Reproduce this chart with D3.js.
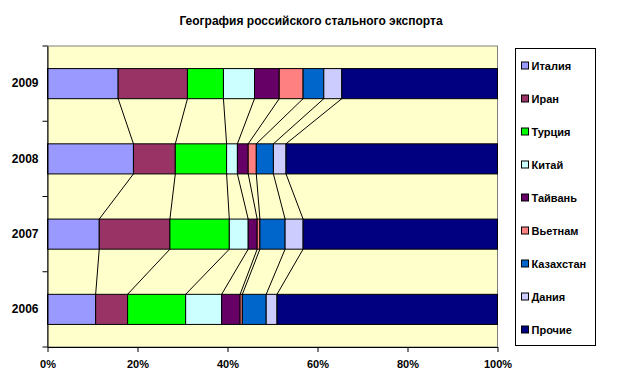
<!DOCTYPE html>
<html>
<head>
<meta charset="utf-8">
<script src="https://cdn.jsdelivr.net/npm/d3@7"></script>
<style>
  body { margin: 0; background: #fff; }
  svg { display: block; font-family: "Liberation Sans", Arial, sans-serif; }
</style>
</head>
<body>
<svg width="623" height="387"></svg>
<script>
// data: share of exports by country, %
const years = ["2006", "2007", "2008", "2009"];
const countries = ["Италия", "Иран", "Турция", "Китай", "Тайвань", "Вьетнам", "Казахстан", "Дания", "Прочие"];
const share2006 = [10.7, 7.1, 12.9, 8.0, 4.1, 0.5, 5.3, 2.4, 49.0];
const share2007 = [11.5, 15.7, 13.2, 4.2, 2.0, 0.6, 5.6, 4.0, 43.2];
const share2008 = [19.1, 9.3, 11.4, 2.4, 2.4, 1.8, 3.8, 2.8, 47.0];
const share2009 = [15.7, 15.4, 8.0, 6.9, 5.5, 5.3, 4.6, 4.0, 34.6];
const xTicks = ["0%", "20%", "40%", "60%", "80%", "100%"];

const colors = ["#9999ff", "#993366", "#00ff00", "#ccffff", "#660066", "#ff8080", "#0066cc", "#ccccff", "#000080"];

const svg = d3.select("svg");
const plot = { left: 47.5, top: 46, width: 450, height: 301 };

const rows = [share2006, share2007, share2008, share2009].map((vals, i) => {
  const r = { year: years[i] };
  countries.forEach((c, j) => r[c] = vals[j]);
  return r;
});
const series = d3.stack().keys(countries).offset(d3.stackOffsetExpand)(rows);

const x = d3.scaleLinear().domain([0, 1]).range([0, plot.width]);
const y = d3.scaleBand().domain(years.slice().reverse()).range([0, plot.height]).paddingInner(0.6).paddingOuter(0.3);
const color = d3.scaleOrdinal().domain(countries).range(colors);

// title
svg.append("text")
  .attr("x", 311).attr("y", 25)
  .attr("text-anchor", "middle")
  .attr("font-size", "12px").attr("font-weight", "bold")
  .text("География российского стального экспорта");

const g = svg.append("g").attr("transform", `translate(${plot.left},${plot.top})`);

// plot background
g.append("rect")
  .attr("width", plot.width).attr("height", plot.height)
  .attr("fill", "#ffffcc").attr("stroke", "#808080");

// series lines between neighbouring bars
const order = y.domain();
series.slice(0, -1).forEach(s => {
  for (let k = 0; k < order.length - 1; k++) {
    const a = s.find(d => d.data.year === order[k]);
    const b = s.find(d => d.data.year === order[k + 1]);
    g.append("line")
      .attr("x1", x(a[1])).attr("y1", y(order[k]) + y.bandwidth())
      .attr("x2", x(b[1])).attr("y2", y(order[k + 1]))
      .attr("stroke", "#000").attr("stroke-width", 1);
  }
});

// bars
g.selectAll("g.series")
  .data(series).enter().append("g")
  .attr("fill", d => color(d.key))
  .selectAll("rect")
  .data(d => d).enter().append("rect")
  .attr("x", d => x(d[0]))
  .attr("width", d => x(d[1]) - x(d[0]))
  .attr("y", d => y(d.data.year))
  .attr("height", y.bandwidth())
  .attr("stroke", "#000").attr("stroke-width", 1);

// axes
const xAxis = g.append("g")
  .attr("transform", `translate(0,${plot.height})`)
  .call(d3.axisBottom(x).tickValues(d3.range(0, 1.01, 0.2)).tickFormat((d, i) => xTicks[i]).tickSize(5).tickSizeOuter(0));
xAxis.selectAll("text").attr("font-size", "11px").attr("font-weight", "bold").attr("dy", "1.15em").attr("fill", "#000");

const yAxis = g.append("g")
  .call(d3.axisLeft(y).tickSize(0).tickPadding(9).tickSizeOuter(0));
yAxis.selectAll("text").attr("font-size", "12px").attr("font-weight", "bold").attr("fill", "#000");
// ticks at category boundaries
const step = y.step();
yAxis.selectAll("line.sep")
  .data(d3.range(0, years.length + 1)).enter().append("line")
  .attr("class", "sep")
  .attr("x1", -5).attr("x2", 0)
  .attr("y1", i => i * step).attr("y2", i => i * step)
  .attr("stroke", "#000");
g.selectAll(".domain").attr("stroke", "#000");

// legend
const legend = svg.append("g").attr("transform", "translate(515.5,48.5)");
legend.append("rect")
  .attr("width", 80).attr("height", 297)
  .attr("fill", "#fff").attr("stroke", "#000");
const item = legend.selectAll("g.item")
  .data(countries).enter().append("g")
  .attr("transform", (d, i) => `translate(6,${17 + i * 33})`);
item.append("rect")
  .attr("x", 0).attr("y", -3.5).attr("width", 7).attr("height", 7)
  .attr("fill", d => color(d)).attr("stroke", "#000");
item.append("text")
  .attr("x", 10).attr("y", 4)
  .attr("font-size", "11px").attr("font-weight", "bold")
  .text(d => d);
</script>
</body>
</html>
